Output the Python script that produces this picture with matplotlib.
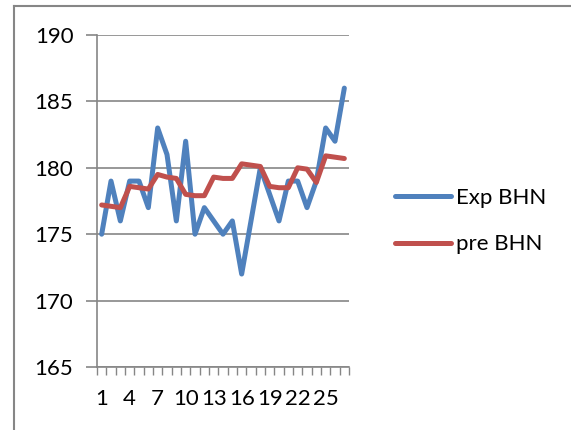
import matplotlib.pyplot as plt
from matplotlib.lines import Line2D
from matplotlib.ticker import FixedLocator, NullFormatter
import numpy as np

# data
samples = list(range(1, 28))
exp_bhn = [175, 179, 176, 179, 179, 177, 183, 181, 176, 182, 175, 177, 176,
           175, 176, 172, 176, 180, 178, 176, 179, 179, 177, 179, 183, 182, 186]
pre_bhn = [177.2, 177.1, 177.0, 178.6, 178.5, 178.4, 179.5, 179.3, 179.2, 178.0,
           177.9, 177.9, 179.3, 179.2, 179.2, 180.3, 180.2, 180.1, 178.6, 178.5,
           178.5, 180.0, 179.9, 178.9, 180.9, 180.8, 180.7]
labels = ["Exp BHN", "pre BHN"]
yticks = [165, 170, 175, 180, 185, 190]

plt.rcParams['font.family'] = ['Lato', 'DejaVu Sans']
W, H = 571, 430
fig = plt.figure(figsize=(W / 100, H / 100), dpi=100)
ax = fig.add_axes([97 / W, 1 - 367 / H, (349 - 97) / W, (367 - 35) / H])

grey = '#868686'
ax.plot(samples, exp_bhn, color='#4F81BD', lw=3.6, solid_capstyle='round',
        solid_joinstyle='round', label=labels[0], zorder=3)
ax.plot(samples, pre_bhn, color='#C0504D', lw=3.6, solid_capstyle='round',
        solid_joinstyle='round', label=labels[1], zorder=3)

ax.set_xlim(0.5, 27.5)
ax.set_ylim(165, 190)
ax.set_yticks(yticks)
ax.yaxis.grid(True, color=grey, lw=1.2)
ax.set_axisbelow(True)

# x labels every 3rd category, ticks at category borders
ax.set_xticks(samples[::3])
ax.xaxis.set_minor_locator(FixedLocator(np.arange(0.5, 28, 1)))
ax.xaxis.set_minor_formatter(NullFormatter())
ax.tick_params(axis='x', which='major', length=0, pad=16, labelsize=16)
ax.tick_params(axis='x', which='minor', length=6, width=1, color=grey, direction='out')
ax.tick_params(axis='y', length=8, width=1.2, color=grey, pad=9, labelsize=16)

for s in ['top', 'right']:
    ax.spines[s].set_visible(False)
for s in ['left', 'bottom']:
    ax.spines[s].set_color(grey)
    ax.spines[s].set_linewidth(1.2)

fig.legend(loc='center left', bbox_to_anchor=(395 / W, 1 - 221 / H), frameon=False,
           fontsize=16, handlelength=2.5, handletextpad=0.25, labelspacing=1.2,
           borderpad=0, borderaxespad=0)

# chart area border (runs off the right and bottom edges)
fig.add_artist(Line2D([14 / W, 14 / W], [0, 1 - 6 / H], transform=fig.transFigure,
                      color=grey, lw=1.5))
fig.add_artist(Line2D([14 / W, 1], [1 - 6 / H, 1 - 6 / H], transform=fig.transFigure,
                      color=grey, lw=1.5))

fig.savefig('out.png', dpi=100)
